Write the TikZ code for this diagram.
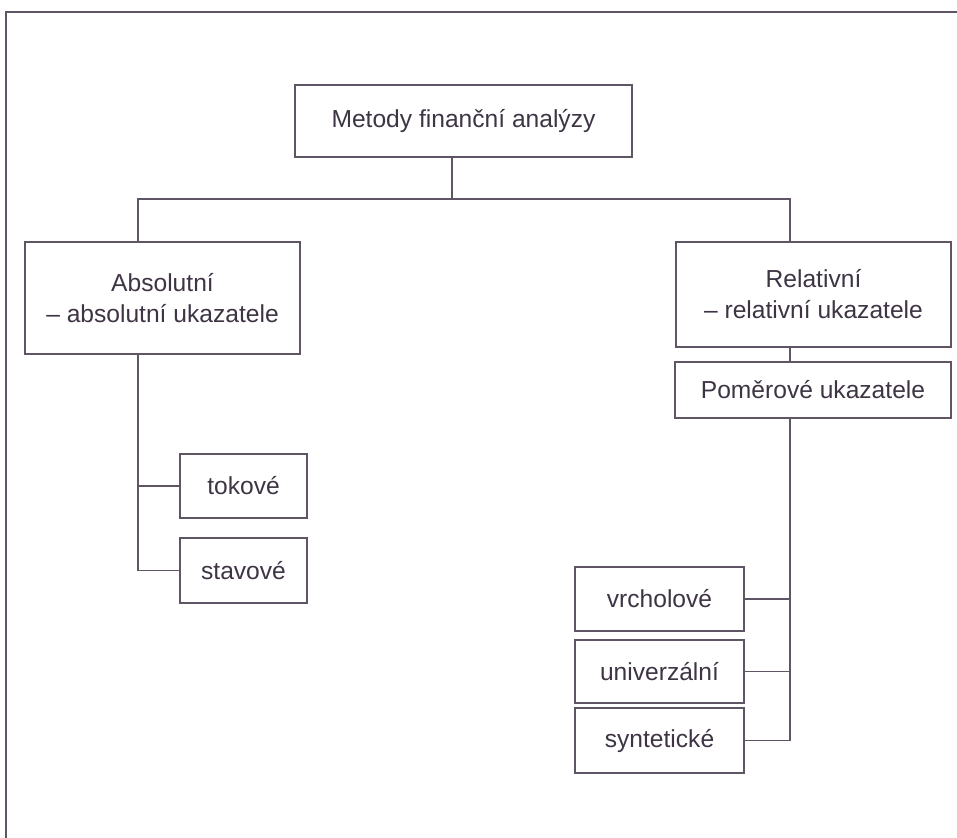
\documentclass[tikz,border=0pt]{standalone}
\usepackage{fontspec}
\setmainfont{Liberation Sans}
\definecolor{ink}{RGB}{62,52,68}
\definecolor{rule}{RGB}{95,85,100}
\begin{document}
\begin{tikzpicture}[x=0.02cm, y=-0.02cm, line width=0.8pt,
  box/.style={draw=rule, text=ink, inner sep=0pt, align=center,
    font=\fontsize{14}{17.6}\selectfont},
  link/.style={draw=rule}]
  \useasboundingbox (0,0) rectangle (957,838);
  % frame
  \draw[rule] (6,838) -- (6,12) -- (957,12);
  % root
  \node[box, minimum width=6.74cm, minimum height=1.44cm] (root) at (463.5,121) {Metody finanční analýzy};
  % two branches
  \node[box, minimum width=5.5cm, minimum height=2.24cm] (abs) at (162.5,298) {Absolutní\\– absolutní ukazatele};
  \node[box, minimum width=5.5cm, minimum height=2.1cm] (rel) at (813.5,294.5) {Relativní\\– relativní ukazatele};
  \node[box, minimum width=5.52cm, minimum height=1.12cm] (pomer) at (813,390) {Poměrové ukazatele};
  % left leaves
  \node[box, minimum width=2.54cm, minimum height=1.28cm] (tok) at (243.5,486) {tokové};
  \node[box, minimum width=2.54cm, minimum height=1.3cm] (stav) at (243.5,570.5) {stavové};
  % right leaves
  \node[box, minimum width=3.38cm, minimum height=1.28cm] (vrch) at (659.5,599) {vrcholové};
  \node[box, minimum width=3.38cm, minimum height=1.26cm] (univ) at (659.5,671.5) {univerzální};
  \node[box, minimum width=3.38cm, minimum height=1.3cm] (synt) at (659.5,740.5) {syntetické};
  % connectors
  \coordinate (split) at (452,199);
  \coordinate (lbus) at (138,199);
  \coordinate (rbus) at (790,199);
  \draw[link] (root.south -| split) -- (split);
  \draw[link] (lbus |- abs.north) -- (lbus) -- (rbus) -- (rbus |- rel.north);
  \draw[link] (abs.south -| lbus) |- (stav.west);
  \draw[link] (lbus |- tok.west) -- (tok.west);
  \draw[link] (rel.south -| rbus) -- (rbus |- pomer.north);
  \draw[link] (pomer.south -| rbus) |- (synt.east);
  \draw[link] (univ.east) -- (rbus |- univ.east);
  \draw[link] (vrch.east) -- (rbus |- vrch.east);
\end{tikzpicture}
\end{document}
